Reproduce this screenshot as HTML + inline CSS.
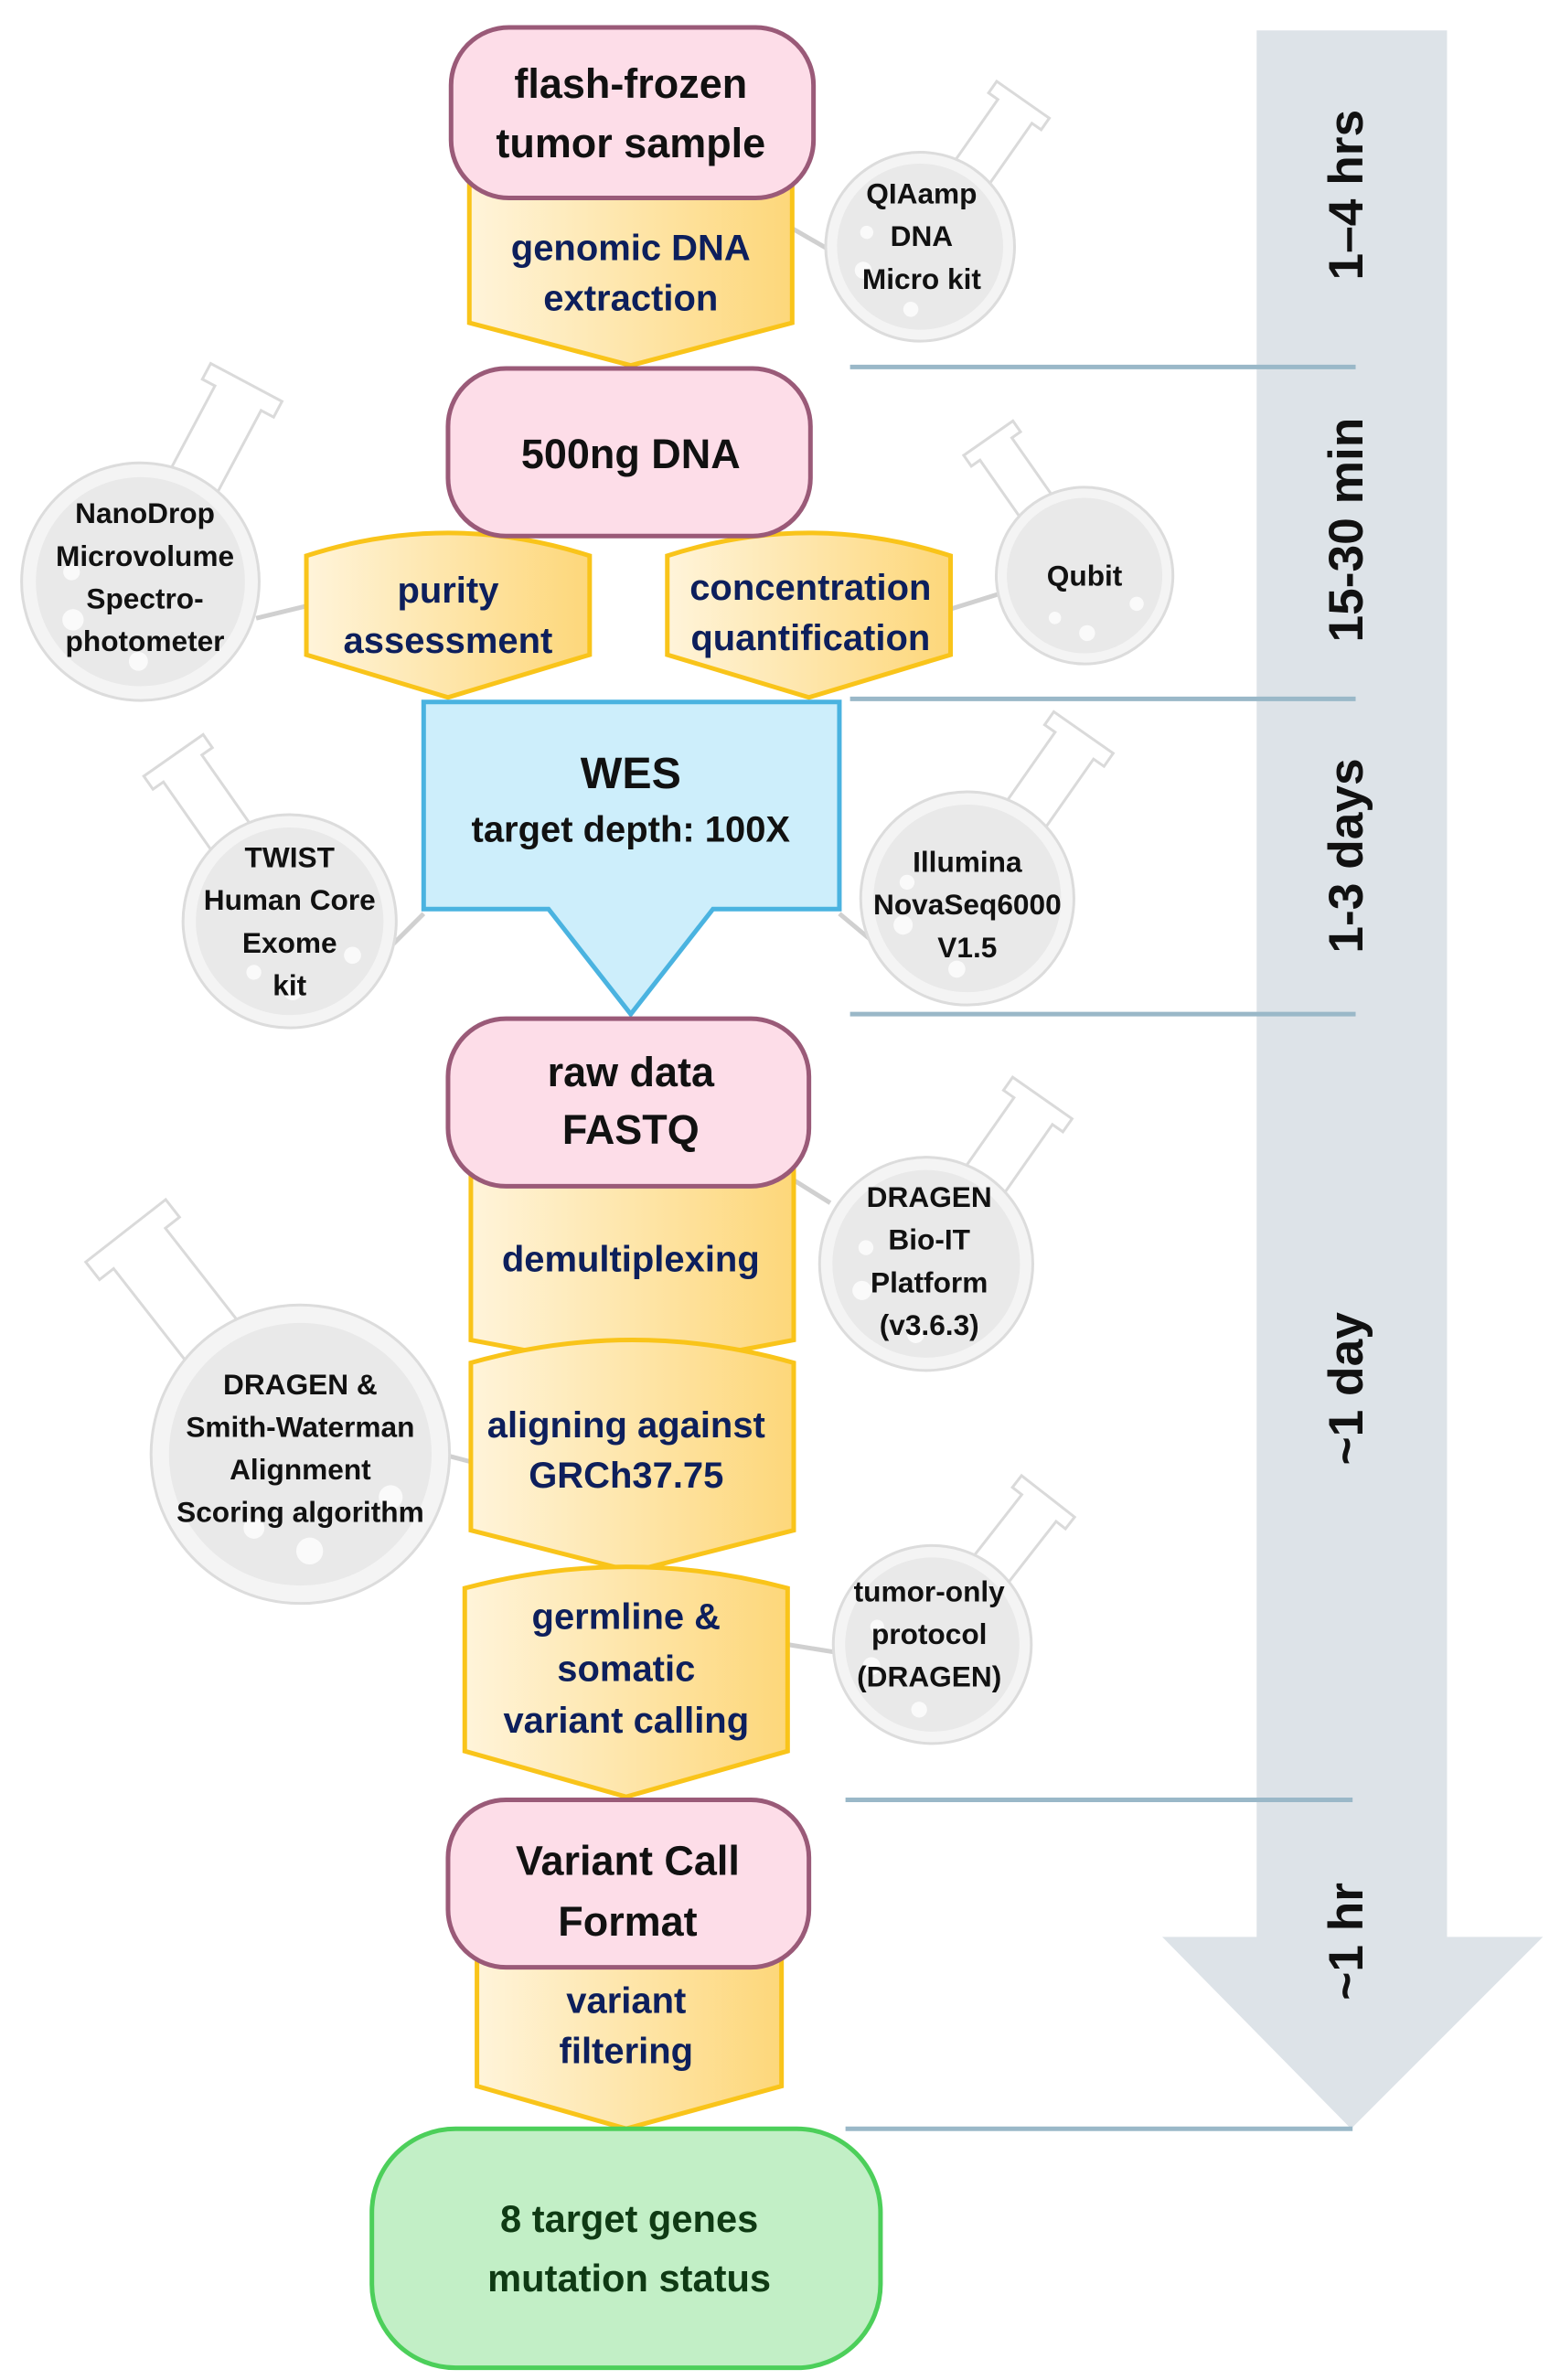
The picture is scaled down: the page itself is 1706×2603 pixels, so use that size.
<!DOCTYPE html>
<html><head><meta charset="utf-8"><style>html,body{margin:0;padding:0;background:#fff}svg{display:block}</style></head>
<body>
<svg width="1706" height="2603" viewBox="0 0 1024 1563" xmlns="http://www.w3.org/2000/svg" font-family="'Liberation Sans Narrow','Liberation Sans',sans-serif" font-weight="bold">
<defs>
<linearGradient id="yg" x1="0" x2="1" y1="0" y2="0"><stop offset="0" stop-color="#fff4da"/><stop offset="1" stop-color="#fdd77a"/></linearGradient>
<g id="flask">
<path d="M-0.22,-0.92 L-0.22,-1.75 L-0.34,-1.75 L-0.34,-1.9 L0.34,-1.9 L0.34,-1.75 L0.22,-1.75 L0.22,-0.92" fill="#fff" stroke="#dadada" stroke-width="3" vector-effect="non-scaling-stroke"/>
<circle r="1" fill="#f4f4f4" stroke="#dcdcdc" stroke-width="3" vector-effect="non-scaling-stroke"/>
<circle r="0.88" fill="#e9e9e9"/>
<circle cx="-0.55" cy="0.2" r="0.07" fill="#fafafa"/><circle cx="-0.35" cy="0.55" r="0.09" fill="#fafafa"/><circle cx="0.3" cy="0.6" r="0.08" fill="#fafafa"/>
</g>
</defs>
<!-- timeline -->
<polygon points="825,20 950,20 950,1272 1013,1272 887,1398 763,1272 825,1272" fill="#dde3e8"/>
<g stroke="#9ab8c8" stroke-width="3">
<line x1="558" y1="241" x2="890" y2="241"/><line x1="558" y1="459" x2="890" y2="459"/><line x1="558" y1="666" x2="890" y2="666"/><line x1="555" y1="1182" x2="888" y2="1182"/><line x1="555" y1="1398" x2="888" y2="1398"/>
</g>
<g font-family="'Liberation Sans',sans-serif" font-size="32" text-anchor="middle" dominant-baseline="central" fill="#111">
<text transform="translate(884,128) rotate(-90)">1–4 hrs</text>
<text transform="translate(884,348) rotate(-90)">15-30 min</text>
<text transform="translate(884,562) rotate(-90)">1-3 days</text>
<text transform="translate(884,912) rotate(-90)">~1 day</text>
<text transform="translate(884,1275) rotate(-90)">~1 hr</text>
</g>
<!-- connectors -->
<g stroke="#d0d0d0" stroke-width="3">
<line x1="520" y1="150" x2="546" y2="165"/><line x1="168" y1="406" x2="201" y2="398"/><line x1="624" y1="400" x2="656" y2="390"/><line x1="258" y1="620" x2="278" y2="600"/><line x1="551" y1="600" x2="575" y2="620"/><line x1="521" y1="775" x2="545" y2="790"/><line x1="290" y1="955" x2="309" y2="960"/><line x1="517" y1="1080" x2="548" y2="1085"/>
</g>
<!-- flasks -->
<use href="#flask" transform="translate(604,162) rotate(35) scale(62)"/>
<use href="#flask" transform="translate(92,382) rotate(28) scale(78)"/>
<use href="#flask" transform="translate(712,378) rotate(-35) scale(58)"/>
<use href="#flask" transform="translate(190,605) rotate(-35) scale(70)"/>
<use href="#flask" transform="translate(635,590) rotate(35) scale(70)"/>
<use href="#flask" transform="translate(608,830) rotate(35) scale(70)"/>
<use href="#flask" transform="translate(197,955) rotate(-38) scale(98)"/>
<use href="#flask" transform="translate(612,1080) rotate(38) scale(65)"/>
<!-- yellow shapes -->
<g fill="url(#yg)" stroke="#f9c41a" stroke-width="3">
<path d="M308,110 H520 V212 L414,240 L308,212 Z"/>
<path d="M201,365 Q294,335 387,365 V430 L294,458 L201,430 Z"/>
<path d="M438,365 Q531,335 624,365 V430 L531,458 L438,430 Z"/>
<path d="M309,760 H521 V880 L415,900 L309,880 Z"/>
<path d="M309,895 Q415,865 521,895 V1005 L415,1032 L309,1005 Z"/>
<path d="M305,1043 Q411,1015 517,1043 V1150 L411,1180 L305,1150 Z"/>
<path d="M313,1285 H513 V1370 L411,1398 L313,1370 Z"/>
</g>
<!-- WES -->
<path d="M278,461 H551 V597 H468 L414,666 L360,597 H278 Z" fill="#cdeefb" stroke="#4ab3e0" stroke-width="3"/>
<!-- pink -->
<g fill="#fddde8" stroke="#9a5a78" stroke-width="3">
<rect x="296" y="18" width="238" height="112" rx="38"/>
<rect x="294" y="242" width="238" height="110" rx="38"/>
<rect x="294" y="669" width="237" height="110" rx="38"/>
<rect x="294" y="1182" width="237" height="110" rx="38"/>
</g>
<rect x="244" y="1398" width="334" height="157" rx="55" fill="#c2efc6" stroke="#4ccf5a" stroke-width="3"/>
<!-- text -->
<g text-anchor="middle" dominant-baseline="central">
<g font-size="27" fill="#111">
<text x="414" y="55">flash-frozen</text><text x="414" y="94">tumor sample</text>
<text x="414" y="298">500ng DNA</text>
<text x="414" y="704">raw data</text><text x="414" y="742">FASTQ</text>
<text x="412" y="1222">Variant Call</text><text x="412" y="1262">Format</text>
</g>
<g font-size="25" fill="#0f3a14"><text x="413" y="1457">8 target genes</text><text x="413" y="1496">mutation status</text></g>
<g font-size="24" fill="#0d1f5c">
<text x="414" y="163">genomic DNA</text><text x="414" y="196">extraction</text>
<text x="294" y="388">purity</text><text x="294" y="421">assessment</text>
<text x="532" y="386">concentration</text><text x="532" y="419">quantification</text>
<text x="414" y="827">demultiplexing</text>
<text x="411" y="936">aligning against</text><text x="411" y="969">GRCh37.75</text>
<text x="411" y="1062">germline &amp;</text><text x="411" y="1096">somatic</text><text x="411" y="1130">variant calling</text>
<text x="411" y="1314">variant</text><text x="411" y="1347">filtering</text>
</g>
<g fill="#111"><text x="414" y="508" font-size="29">WES</text><text x="414" y="545" font-size="24">target depth: 100X</text></g>
<g font-size="19" fill="#111">
<text x="605" y="127">QIAamp</text><text x="605" y="155">DNA</text><text x="605" y="183">Micro kit</text>
<text x="95" y="337">NanoDrop</text><text x="95" y="365">Microvolume</text><text x="95" y="393">Spectro-</text><text x="95" y="421">photometer</text>
<text x="712" y="378">Qubit</text>
<text x="190" y="563">TWIST</text><text x="190" y="591">Human Core</text><text x="190" y="619">Exome</text><text x="190" y="647">kit</text>
<text x="635" y="566">Illumina</text><text x="635" y="594">NovaSeq6000</text><text x="635" y="622">V1.5</text>
<text x="610" y="786">DRAGEN</text><text x="610" y="814">Bio-IT</text><text x="610" y="842">Platform</text><text x="610" y="870">(v3.6.3)</text>
<text x="197" y="909">DRAGEN &amp;</text><text x="197" y="937">Smith-Waterman</text><text x="197" y="965">Alignment</text><text x="197" y="993">Scoring algorithm</text>
<text x="610" y="1045">tumor-only</text><text x="610" y="1073">protocol</text><text x="610" y="1101">(DRAGEN)</text>
</g>
</g>
</svg>
</body></html>
